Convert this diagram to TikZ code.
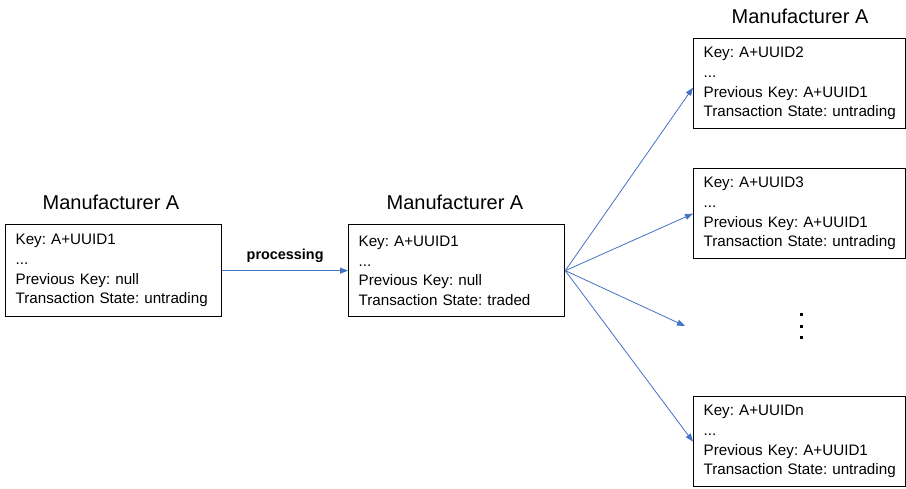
\documentclass[tikz,border=0pt]{standalone}
\usepackage{fontspec}
\setmainfont{Liberation Sans}
\usetikzlibrary{arrows.meta}
\definecolor{arrowblue}{RGB}{68,114,196}
\frenchspacing
\hyphenpenalty=10000\relax
\exhyphenpenalty=10000\relax
\hfuzz=50pt
\tikzset{
  recbox/.style={draw=black, line width=1.3pt, anchor=north west, align=left,
    text width=196pt, inner xsep=10pt, inner ysep=0pt, minimum width=216pt,
    font=\fontsize{15.2}{19.6}\selectfont},
  title/.style={font=\fontsize{20}{24}\selectfont, inner sep=0pt},
  link/.style={draw=arrowblue, line width=0.8pt, -{Triangle[length=8pt,width=6pt]}}
}
\begin{document}
\begin{tikzpicture}[x=1pt,y=1pt]
\useasboundingbox (0,0) rectangle (906,-489);
\node[recbox, minimum height=92pt] (b1) at (5,-224) {Key: A+UUID1\\...\\Previous Key: null\\\mbox{Transaction State: untrading}};
\node[recbox, minimum height=92pt] (b2) at (348,-224) {Key: A+UUID1\\...\\Previous Key: null\\\mbox{Transaction State: traded}};
\node[recbox, minimum height=90pt, minimum width=212pt, text width=192pt] (b3) at (693,-38) {Key: A+UUID2\\...\\Previous Key: A+UUID1\\\mbox{Transaction State: untrading}};
\node[recbox, minimum height=90pt, minimum width=212pt, text width=192pt] (b4) at (693,-168) {Key: A+UUID3\\...\\Previous Key: A+UUID1\\\mbox{Transaction State: untrading}};
\node[recbox, minimum height=90pt, minimum width=212pt, text width=192pt] (b5) at (693,-396) {Key: A+UUIDn\\...\\Previous Key: A+UUID1\\\mbox{Transaction State: untrading}};
\node[title] (t1) at (111,-202) {Manufacturer A};
\node[title] (t2) at (455,-202) {Manufacturer A};
\node[title] (t3) at (800,-16) {Manufacturer A};
\coordinate (mid) at (685,-326);
\draw[link] (b1.east) -- node[above=4pt, font=\fontsize{14.4}{17}\selectfont\bfseries] (lab) {processing} (b2.west);
\draw[link] (b2.east) -- ([yshift=-4pt]b3.west);
\draw[link] (b2.east) -- (b4.west);
\draw[link] (b2.east) -- (mid);
\draw[link] (b2.east) -- (b5.west);
\fill (799.5,-313.5) rectangle (802.5,-316.5);
\fill (799.5,-325.5) rectangle (802.5,-328.5);
\fill (799.5,-336.5) rectangle (802.5,-339.5);
\end{tikzpicture}
\end{document}
